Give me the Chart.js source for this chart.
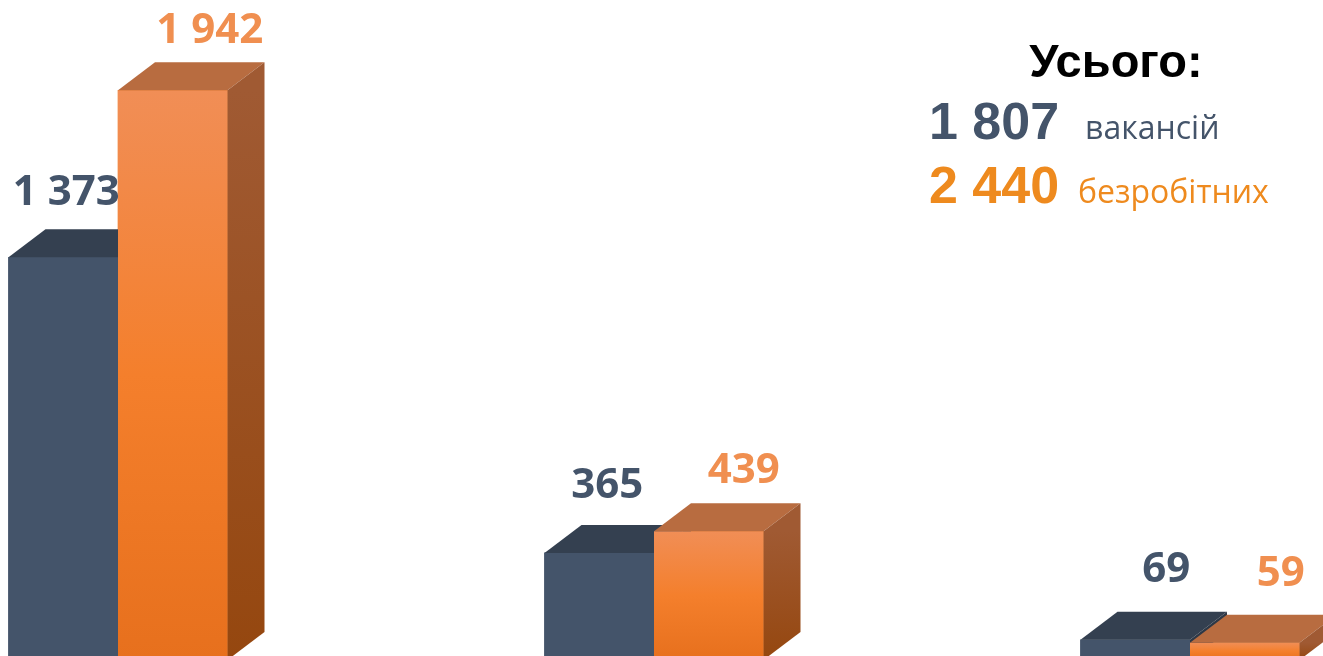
<!DOCTYPE html>
<html>
<head>
<meta charset="utf-8">
<script src="https://cdn.jsdelivr.net/npm/chart.js@4"></script>
<style>
  html, body { margin: 0; padding: 0; background: #ffffff; overflow: hidden; }
  #box { width: 1323px; height: 660px; }
</style>
</head>
<body>
<div id="box"><canvas id="chart" width="1323" height="660"></canvas></div>
<script>
const categories = ["A", "B", "C"];
const vacancies = [1373, 365, 69];
const unemployed = [1942, 439, 59];
const totalLabel = "Усього:";
const vacanciesLabel = "вакансій";
const unemployedLabel = "безробітних";

const sum = (arr) => arr.reduce((a, b) => a + b, 0);
const fmt = (v) => String(v).replace(/\B(?=(\d{3})+(?!\d))/g, " ");

const DX = 37, DY = 28; // depth of the fake 3D box

// draws fronts, top + side faces and value labels, dataset by dataset (left one first)
const box3d = {
  id: "box3d",
  afterDatasetsDraw(chart, args, opts) {
    const ctx = chart.ctx;
    chart.data.datasets.forEach((ds, di) => {
      const meta = chart.getDatasetMeta(di);
      const st = opts.styles[di];
      meta.data.forEach((bar, i) => {
        const { x, y, base, width } = bar.getProps(["x", "y", "base", "width"], true);
        const l = x - width / 2, r = x + width / 2;
        ctx.save();
        // front
        const fg = ctx.createLinearGradient(0, y, 0, base);
        fg.addColorStop(0, st.front[0]);
        fg.addColorStop(0.5, st.front[1]);
        fg.addColorStop(1, st.front[2]);
        ctx.fillStyle = fg;
        ctx.fillRect(l, y, width, base - y);
        // top
        ctx.fillStyle = st.top;
        ctx.beginPath();
        ctx.moveTo(l, y);
        ctx.lineTo(r, y);
        ctx.lineTo(r + DX, y - DY);
        ctx.lineTo(l + DX, y - DY);
        ctx.closePath();
        ctx.fill();
        // side
        const sg = ctx.createLinearGradient(0, y, 0, base);
        sg.addColorStop(0, st.side[0]);
        sg.addColorStop(1, st.side[1]);
        ctx.fillStyle = sg;
        ctx.beginPath();
        ctx.moveTo(r, y);
        ctx.lineTo(r + DX, y - DY);
        ctx.lineTo(r + DX, base - DY);
        ctx.lineTo(r, base);
        ctx.closePath();
        ctx.fill();
        ctx.restore();
      });
    });
    // labels on top of everything
    chart.data.datasets.forEach((ds, di) => {
      const meta = chart.getDatasetMeta(di);
      const st = opts.styles[di];
      meta.data.forEach((bar, i) => {
        const { x, y } = bar.getProps(["x", "y"], true);
        ctx.save();
        ctx.font = "bold 42px 'Open Sans'";
        ctx.fillStyle = st.label;
        ctx.textAlign = "center";
        ctx.textBaseline = "alphabetic";
        ctx.fillText(fmt(ds.data[i]), x + st.shift[i], y - st.lift[i]);
        ctx.restore();
      });
    });
  },
  afterDraw(chart) {
    const ctx = chart.ctx;
    ctx.save();
    ctx.textBaseline = "alphabetic";
    ctx.fillStyle = "#000000";
    ctx.textAlign = "center";
    ctx.font = "bold 47px 'Liberation Sans'";
    ctx.fillText(totalLabel, 1116, 77);
    ctx.textAlign = "left";
    ctx.fillStyle = "#44546A";
    ctx.font = "bold 52px 'Liberation Sans'";
    ctx.fillText(fmt(sum(vacancies)), 929, 139);
    ctx.font = "32px 'Open Sans'";
    ctx.fillText(vacanciesLabel, 1085, 139);
    ctx.fillStyle = "#EE8A1E";
    ctx.font = "bold 52px 'Liberation Sans'";
    ctx.fillText(fmt(sum(unemployed)), 929, 203);
    ctx.font = "32px 'Open Sans'";
    ctx.fillText(unemployedLabel, 1078, 203);
    ctx.restore();
  }
};

new Chart(document.getElementById("chart"), {
  type: "bar",
  data: {
    labels: categories,
    datasets: [
      {
        label: vacanciesLabel,
        data: vacancies,
        backgroundColor: "#44546A",
        barThickness: 109.5,
        clip: false
      },
      {
        label: unemployedLabel,
        data: unemployed,
        backgroundColor: "#F2822E",
        barThickness: 109.5,
        clip: false
      }
    ]
  },
  options: {
    responsive: false,
    animation: false,
    layout: { padding: { left: 118, right: 133, top: 0, bottom: 0 } },
    scales: {
      x: { display: false, offset: false, grid: { offset: false } },
      y: { display: false, min: 0, max: 2250 }
    },
    plugins: {
      legend: { display: false },
      tooltip: { enabled: false },
      box3d: {
        styles: [
          {
            front: ["#44546A", "#44546A", "#44546A"],
            top: "#344050",
            side: ["#2E3846", "#2A3340"],
            label: "#44546A",
            shift: [3, 8, 31],
            lift: [52, 55, 58]
          },
          {
            front: ["#F18E56", "#F47F2C", "#E7701D"],
            top: "#B86C40",
            side: ["#A05A33", "#95470F"],
            label: "#F08F50",
            shift: [37, 35, 36],
            lift: [47, 48, 57]
          }
        ]
      }
    }
  },
  plugins: [box3d]
});
</script>
</body>
</html>
